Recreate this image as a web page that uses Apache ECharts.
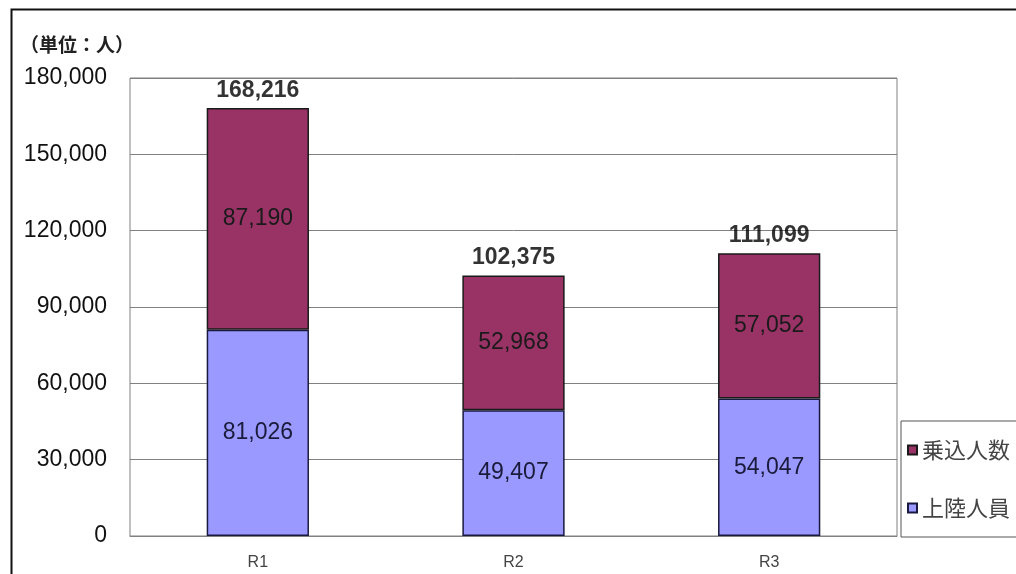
<!DOCTYPE html>
<html>
<head>
<meta charset="utf-8">
<script src="https://cdn.jsdelivr.net/npm/echarts@6/dist/echarts.min.js"></script>
<style>
html,body{margin:0;padding:0;background:#fff;}
#chart{width:1016px;height:574px;}
</style>
</head>
<body>
<div id="chart"></div>
<script>
var categories = ['R1', 'R2', 'R3'];
var landed = [81026, 49407, 54047];      // 上陸人員
var boarded = [87190, 52968, 57052];     // 乗込人数
var totals = [168216, 102375, 111099];
var yTicks = { min: 0, max: 180000, interval: 30000 };
var seriesNames = ['上陸人員', '乗込人数'];
var unitLabel = '（単位：人）';

var numFont = '"Liberation Sans", Arial, sans-serif';
var jpFont = '"Noto Sans CJK JP", sans-serif';
function fmt(v) { return Number(v).toLocaleString('en-US'); }

var chart = echarts.init(document.getElementById('chart'), null, { renderer: 'canvas' });
chart.setOption({
  backgroundColor: '#ffffff',
  animation: false,
  graphic: [
    { type: 'rect', left: 9, top: 7, shape: { width: 1100, height: 700 },
      style: { fill: 'none', stroke: '#111', lineWidth: 2 } },
    { type: 'text', left: 20, top: 35,
      style: { text: unitLabel, font: 'bold 19px ' + jpFont, fill: '#222' } }
  ],
  grid: { left: 130, right: 119, top: 78, bottom: 38, show: true,
          borderColor: '#808080', borderWidth: 1 },
  legend: {
    orient: 'vertical', left: 901, top: 421,
    data: [seriesNames[1], seriesNames[0]],
    borderColor: '#555', borderWidth: 1,
    padding: [18, 40, 18, 6],
    itemWidth: 9, itemHeight: 9, itemGap: 36,
    icon: 'rect',
    textStyle: { fontFamily: jpFont, fontSize: 22, color: '#444' }
  },
  xAxis: {
    type: 'category', data: categories,
    axisTick: { show: false },
    axisLine: { lineStyle: { color: '#808080' } },
    axisLabel: { fontFamily: numFont, fontSize: 16, color: '#444', margin: 19 }
  },
  yAxis: {
    type: 'value', min: yTicks.min, max: yTicks.max, interval: yTicks.interval,
    axisLine: { show: false }, axisTick: { show: false },
    splitLine: { lineStyle: { color: '#808080', width: 1 } },
    axisLabel: { fontFamily: numFont, fontSize: 23, color: '#111', margin: 23,
                 formatter: function (v) { return fmt(v); } }
  },
  series: [
    {
      name: seriesNames[0], type: 'bar', stack: 'total', data: landed,
      barWidth: '40%',
      itemStyle: { color: '#9999FF', borderColor: '#1a1a40', borderWidth: 1.5 },
      label: { show: true, position: 'inside', fontFamily: numFont, fontSize: 23,
               color: '#1a1a3a', formatter: function (p) { return fmt(p.value); } }
    },
    {
      name: seriesNames[1], type: 'bar', stack: 'total', data: boarded,
      barWidth: '40%',
      itemStyle: { color: '#993366', borderColor: '#1a1a1a', borderWidth: 1.5 },
      label: { show: true, position: 'inside', fontFamily: numFont, fontSize: 23,
               color: '#1a1a1a', formatter: function (p) { return fmt(p.value); } }
    },
    {
      name: 'total', type: 'scatter', data: totals, symbolSize: 0,
      silent: true,
      label: { show: true, position: 'top', distance: 6, fontFamily: numFont,
               fontSize: 23, fontWeight: 'bold', color: '#000',
               formatter: function (p) { return fmt(p.value); } }
    }
  ]
});
</script>
</body>
</html>
